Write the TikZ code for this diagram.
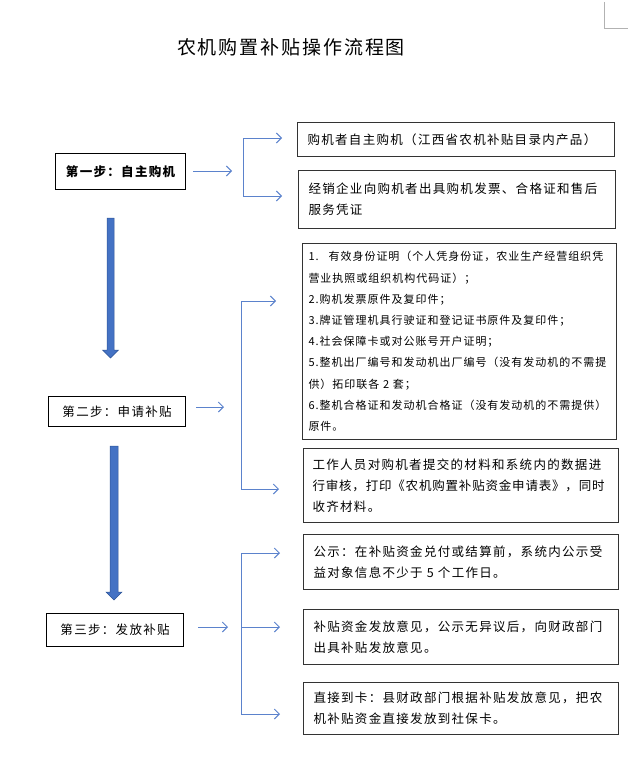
\documentclass[tikz,border=0pt]{standalone}
\usepackage{fontspec}
\setmainfont{Noto Sans CJK SC}
\newfontfamily\boxfont[LetterSpace=10.5]{Noto Sans CJK SC}
\newfontfamily\tightfont[LetterSpace=6.5]{Noto Sans CJK SC}
\newfontfamily\smallfont[LetterSpace=9]{Noto Sans CJK SC}
\newfontfamily\titlefont[LetterSpace=10]{Noto Sans CJK SC}
\usetikzlibrary{arrows.meta}
\definecolor{connblue}{HTML}{5B82CC}
\definecolor{fillblue}{HTML}{4472C4}
\definecolor{edgeblue}{HTML}{2F5597}
\tikzset{
  txtbox/.style={draw=black!80, line width=1pt, anchor=north west, align=left,
    inner xsep=10pt, inner ysep=0pt,
    font=\boxfont\fontsize{12.5}{21}\selectfont},
  stepbox/.style={draw=black, line width=1.1pt, anchor=north west, align=center,
    inner sep=0pt, font=\boxfont\fontsize{12.5}{15}\selectfont},
  conn/.style={draw=connblue, line width=1pt},
  connarr/.style={conn, -{Straight Barb[length=5pt,width=10pt]}},
  blockarrow/.style={fill=fillblue, draw=edgeblue, line width=0.5pt}
}
\begin{document}
\begin{tikzpicture}[x=1pt,y=-1pt]
\useasboundingbox (0,0) rectangle (643,765);
% corner mark
\draw[black!30, line width=0.8pt] (604,2) -- (604,28) -- (628,28);
% title
\node[font=\titlefont\fontsize{19}{22}\selectfont, anchor=center] (title) at (291,47) {农机购置补贴操作流程图};

% step boxes
\node[stepbox, minimum width=130pt, minimum height=36pt] (s1) at (55,153) {\bfseries 第一步：自主购机};
\node[stepbox, minimum width=137pt, minimum height=30pt] (s2) at (48,396) {第二步：申请补贴};
\node[stepbox, minimum width=137pt, minimum height=33pt] (s3) at (46,613) {第三步：发放补贴};

% right boxes
\node[txtbox, text width=297pt, minimum height=34pt] (b1a) at (297,122) {购机者自主购机（江西省农机补贴目录内产品）};
\node[txtbox, text width=297pt, minimum height=58pt] (b1b) at (298,170) {经销企业向购机者出具购机发票、合格证和售后\\服务凭证};
\node[txtbox, inner xsep=6pt, text width=302pt, minimum height=196pt,
  font=\smallfont\fontsize{11}{21.2}\selectfont] (b2a) at (302,243) {%
1.\hspace{0.9em}有效身份证明（个人凭身份证，农业生产经营组织凭\\
营业执照或组织机构代码证）；\\
2.购机发票原件及复印件；\\
3.牌证管理机具行驶证和登记证书原件及复印件；\\
4.社会保障卡或对公账号开户证明；\\
5.整机出厂编号和发动机出厂编号（没有发动机的不需提\\
供）拓印联各 2 套；\\
6.整机合格证和发动机合格证（没有发动机的不需提供）\\
原件。};
\node[txtbox, inner xsep=9pt, text width=297pt, minimum height=74pt] (b2b) at (303,448) {工作人员对购机者提交的材料和系统内的数据进\\{\tightfont 行审核，打印《农机购置补贴资金申请表》，同时}\\收齐材料。};
\node[txtbox, text width=295pt, minimum height=55pt] (b3a) at (303,534) {公示：在补贴资金兑付或结算前，系统内公示受\\益对象信息不少于 5 个工作日。};
\node[txtbox, text width=295pt, minimum height=55pt] (b3b) at (303,609) {补贴资金发放意见，公示无异议后，向财政部门\\出具补贴发放意见。};
\node[txtbox, text width=295pt, minimum height=52pt] (b3c) at (303,682) {直接到卡：县财政部门根据补贴发放意见，把农\\机补贴资金直接发放到社保卡。};

% bracket coordinates
\coordinate (a1) at (232,171);
\coordinate (t1) at (243,138);
\coordinate (u1) at (243,196);
\coordinate (a2) at (224,407);
\coordinate (t2) at (241,301);
\coordinate (u2) at (241,489);
\coordinate (a3) at (228,627);
\coordinate (t3) at (241,553);
\coordinate (m3) at (241,627);
\coordinate (u3) at (241,714);

% step 1 connectors
\draw[connarr, shorten <=7pt] (s1.east |- a1) -- (a1);
\draw[conn] (t1) -- (u1);
\draw[connarr, shorten >=15pt] (t1) -- (b1a.west |- t1);
\draw[connarr, shorten >=16pt] (u1) -- (b1b.west |- u1);
% step 2 connectors
\draw[connarr, shorten <=10pt] (s2.east |- a2) -- (a2);
\draw[conn] (t2) -- (u2);
\draw[connarr, shorten >=26pt] (t2) -- (b2a.west |- t2);
\draw[connarr, shorten >=24pt] (u2) -- (b2b.west |- u2);
% step 3 connectors
\draw[connarr, shorten <=14pt] (s3.east |- a3) -- (a3);
\draw[conn] (t3) -- (u3);
\draw[connarr, shorten >=23pt] (t3) -- (b3a.west |- t3);
\draw[connarr, shorten >=23pt] (m3) -- (b3b.west |- m3);
\draw[connarr, shorten >=23pt] (u3) -- (b3c.west |- u3);

% block arrows
\draw[blockarrow] (107,218) -- (114,218) -- (114,350) -- (118.5,350) -- (110.5,358) -- (102.5,350) -- (107,350) -- cycle;
\draw[blockarrow] (110,446) -- (118,446) -- (118,592) -- (122,592) -- (114,600) -- (106,592) -- (110,592) -- cycle;
\end{tikzpicture}
\end{document}
